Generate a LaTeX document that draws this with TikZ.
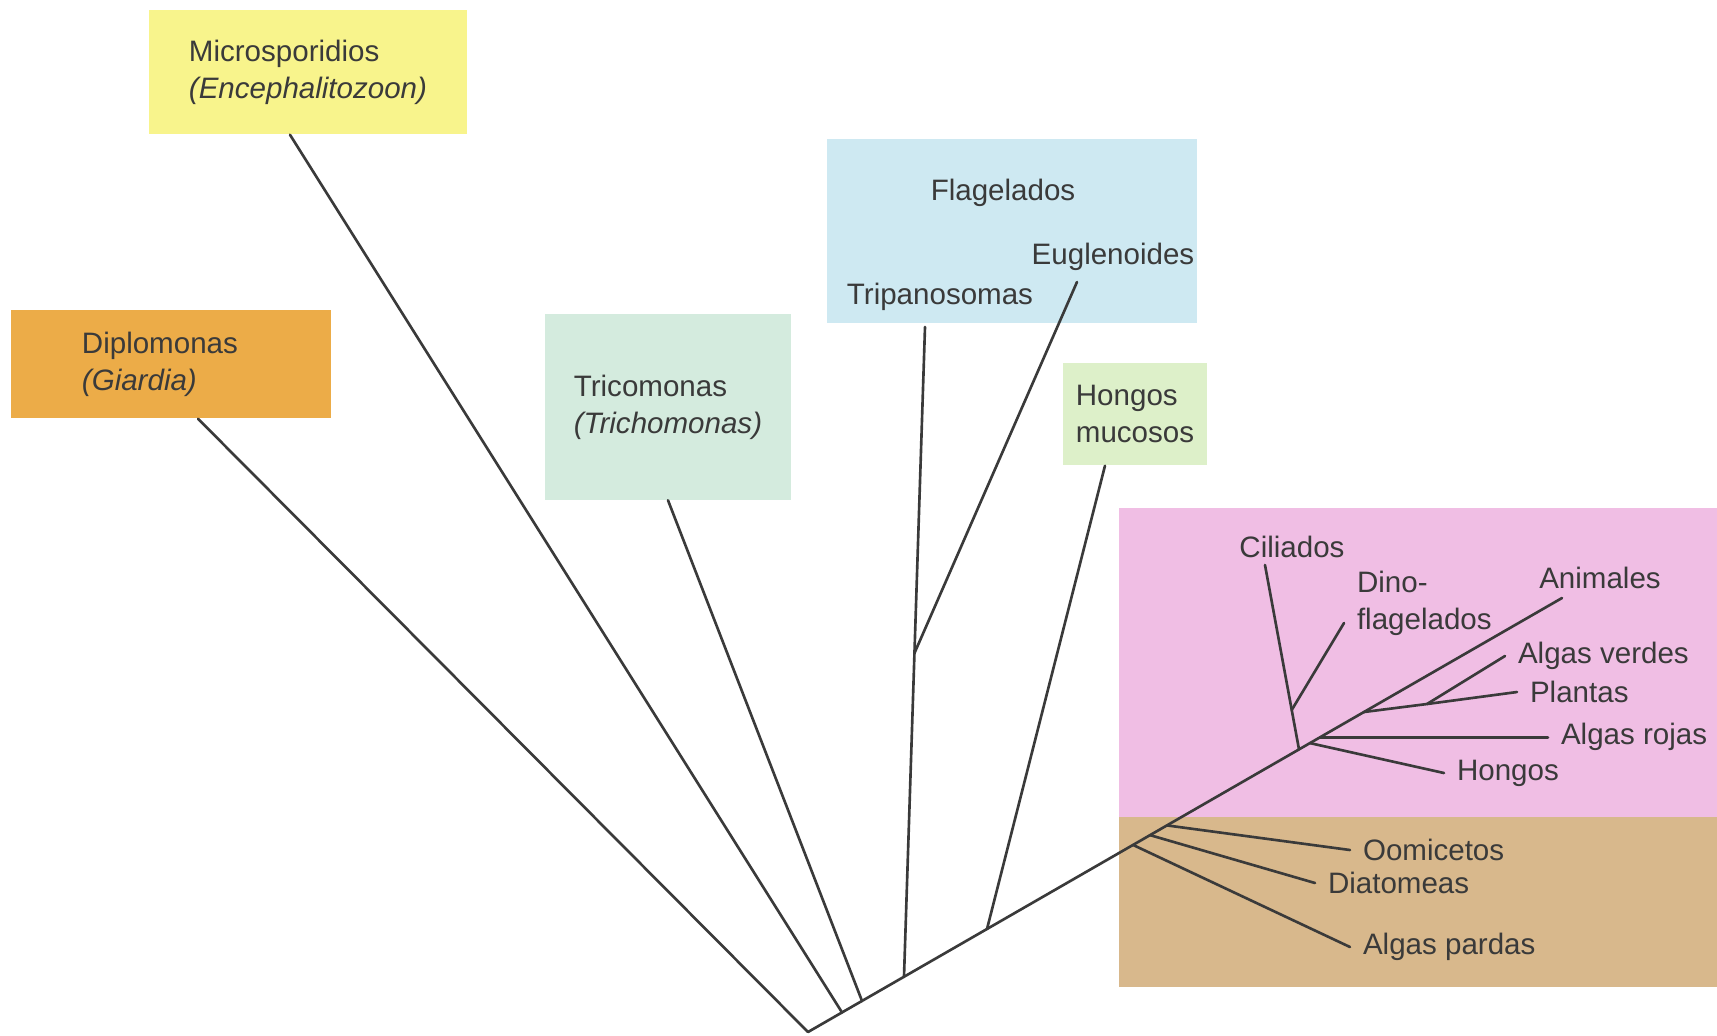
\documentclass[tikz,border=0pt]{standalone}
\usepackage{fontspec}
\setmainfont{Liberation Sans}
\usepackage{tikz}
\usetikzlibrary{positioning}

\definecolor{micro}{RGB}{248,244,140}
\definecolor{diplo}{RGB}{236,172,72}
\definecolor{trico}{RGB}{212,235,222}
\definecolor{flage}{RGB}{206,233,242}
\definecolor{mucos}{RGB}{221,240,201}
\definecolor{rosa}{RGB}{240,190,228}
\definecolor{ocre}{RGB}{216,184,140}
\definecolor{tinta}{RGB}{58,58,58}

\begin{document}
\begin{tikzpicture}[x=0.01cm, y=-0.01cm,
    every node/.style={text=tinta, font=\fontsize{8.4}{10.6}\selectfont},
    box/.style={rectangle, inner sep=0pt, align=left},
    lbl/.style={inner sep=3.5pt, align=left},
    rama/.style={draw=tinta, line width=0.75pt, line cap=round}]

        \useasboundingbox (0,0) rectangle (1717,1035);

        %Boxes
        \node[box, fill=rosa, minimum width=5.98cm, minimum height=3.09cm] (euk) at (1418,663) {};
        \node[box, fill=ocre, minimum width=5.98cm, minimum height=1.70cm] (stram) at (1418,902) {};
        \node[box, fill=flage, minimum width=3.69cm, minimum height=1.84cm] (flag) at (1012,231) {};
        \node[box, fill=micro, minimum width=3.17cm, minimum height=1.24cm] (mic) at (308,72) {Microsporidios\\\textit{(Encephalitozoon)}};
        \node[box, fill=diplo, minimum width=3.19cm, minimum height=1.08cm, text width=1.78cm] (dip) at (171,364) {Diplomonas\\\textit{(Giardia)}};
        \node[box, fill=trico, minimum width=2.45cm, minimum height=1.85cm] (tri) at (668,407) {Tricomonas\\\textit{(Trichomonas)}};
        \node[box, fill=mucos, minimum width=1.44cm, minimum height=1.02cm] (muc) at (1135,414) {Hongos\\mucosos};

        %Labels
        \node[lbl] (flagt) at (1003,193) {Flagelados};
        \node[lbl] (eug) at (1113,257) {Euglenoides};
        \node[lbl] (trip) at (940,297) {Tripanosomas};
        \node[lbl] (cil) at (1292,547) {Ciliados};
        \node[lbl] (ani) at (1600,578) {Animales};

        %Tree points
        \coordinate (raiz) at (808,1032);
        \coordinate (pMic) at (842,1012.4);
        \coordinate (pTri) at (862,1000.9);
        \coordinate (pFla) at (904,976.7);
        \coordinate (pEug) at (914.5,653);
        \coordinate (pMuc) at (987,929);
        \coordinate (pPar) at (1133,844.9);
        \coordinate (pDia) at (1150,835.1);
        \coordinate (pOom) at (1167,825.4);
        \coordinate (pCil) at (1299,749.4);
        \coordinate (pDin) at (1291.7,710);
        \coordinate (pHon) at (1310,743.1);
        \coordinate (pRoj) at (1320,737.3);
        \coordinate (pVer) at (1364,712);
        \coordinate (pPla) at (1427,704);

        %Tips
        \coordinate (tMic) at ([xshift=-1.8mm]mic.south);
        \coordinate (tDip) at ([xshift=2.7mm]dip.south);
        \coordinate (tTri) at (tri.south);
        \coordinate (tMuc) at ([xshift=-3mm]muc.south);
        \coordinate (tTrip) at (925,327);
        \coordinate (tEug) at (1077,282);
        \coordinate (tCil) at (1265,565);
        \coordinate (tDin) at (1344,623);
        \coordinate (tAni) at (1562,598);
        \coordinate (tVer) at (1505,656);
        \coordinate (tPla) at (1517,692);
        \coordinate (tRoj) at (1548,737.3);
        \coordinate (tHon) at (1444,773);
        \coordinate (tOom) at (1350,850);
        \coordinate (tDia) at (1315,883);
        \coordinate (tPar) at (1350,947);

        \node[lbl, anchor=west] (din) at (1344,603) {Dino-\\flagelados};
        \node[lbl, right=0pt of tVer] (ver) {Algas verdes};
        \node[lbl, right=0pt of tPla] (pla) {Plantas};
        \node[lbl, right=0pt of tRoj] (roj) {Algas rojas};
        \node[lbl, right=0pt of tHon] (hon) {Hongos};
        \node[lbl, right=0pt of tOom] (oom) {Oomicetos};
        \node[lbl, right=0pt of tDia] (dia) {Diatomeas};
        \node[lbl, right=0pt of tPar] (par) {Algas pardas};

        %Lines
        \draw[rama] (raiz) -- (tAni);
        \draw[rama] (raiz) -- (tDip);
        \draw[rama] (pMic) -- (tMic);
        \draw[rama] (pTri) -- (tTri);
        \draw[rama] (pFla) -- (tTrip);
        \draw[rama] (pEug) -- (tEug);
        \draw[rama] (pMuc) -- (tMuc);
        \draw[rama] (pPar) -- (tPar);
        \draw[rama] (pDia) -- (tDia);
        \draw[rama] (pOom) -- (tOom);
        \draw[rama] (pCil) -- (tCil);
        \draw[rama] (pDin) -- (tDin);
        \draw[rama] (pHon) -- (tHon);
        \draw[rama] (pRoj) -- (tRoj);
        \draw[rama] (pVer) -- (pPla) -- (tPla);
        \draw[rama] (pPla) -- (tVer);

    \end{tikzpicture}
\end{document}
